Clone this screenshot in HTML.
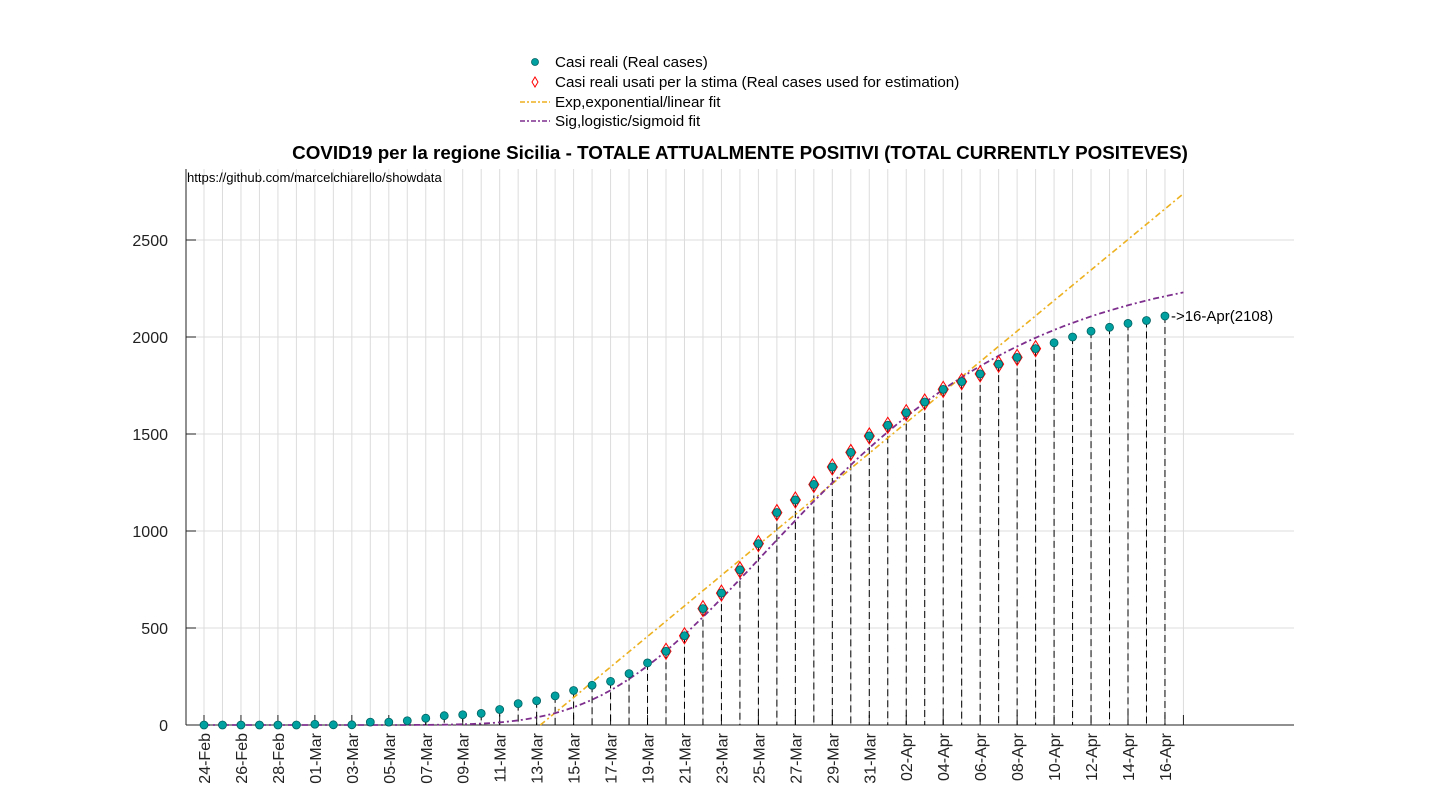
<!DOCTYPE html>
<html><head><meta charset="utf-8"><style>
body{margin:0;background:#fff;}
svg{display:block;font-family:"Liberation Sans",sans-serif;}
</style></head><body>
<svg id="chart" width="1430" height="800"></svg>
<script>
const dateLabels=["24-Feb","25-Feb","26-Feb","27-Feb","28-Feb","29-Feb","01-Mar","02-Mar","03-Mar","04-Mar","05-Mar","06-Mar","07-Mar","08-Mar","09-Mar","10-Mar","11-Mar","12-Mar","13-Mar","14-Mar","15-Mar","16-Mar","17-Mar","18-Mar","19-Mar","20-Mar","21-Mar","22-Mar","23-Mar","24-Mar","25-Mar","26-Mar","27-Mar","28-Mar","29-Mar","30-Mar","31-Mar","01-Apr","02-Apr","03-Apr","04-Apr","05-Apr","06-Apr","07-Apr","08-Apr","09-Apr","10-Apr","11-Apr","12-Apr","13-Apr","14-Apr","15-Apr","16-Apr"];
const realCases=[0,0,0,0,0,0,4,1,1,15,15,22,35,48,53,60,80,110,125,150,178,205,225,265,320,380,460,600,680,800,935,1095,1160,1240,1330,1405,1490,1545,1610,1665,1730,1770,1810,1860,1895,1940,1970,2000,2030,2050,2070,2085,2108];
const estStart=25, estEnd=45;
const yTicks=[0,500,1000,1500,2000,2500];
const linFit={slope:78.7,zeroDay:18.2};
const sigFit={K:2400,c:0.115,t0:30.3};
const fitEndDay=53;

const svg=document.getElementById('chart');
const NS='http://www.w3.org/2000/svg';
function mk(tag,attrs,parent){const e=document.createElementNS(NS,tag);for(const k in attrs)e.setAttribute(k,attrs[k]);(parent||svg).appendChild(e);return e;}
const X0=204,DX=18.48,Y0=725,YS=97/500;
const xs=d=>X0+d*DX, ys=v=>Y0-v*YS;
const L=186,R=1294,T=169;

// grid
const grid=mk('g',{});


for(let d=0;d<=fitEndDay;d++){mk('line',{x1:xs(d),x2:xs(d),y1:T,y2:Y0,stroke:'#dcdcdc','stroke-width':1},grid);}
yTicks.forEach(v=>{mk('line',{x1:L,x2:R,y1:ys(v),y2:ys(v),stroke:'#dcdcdc','stroke-width':1},grid);});

// axes
const ax=mk('g',{});


mk('line',{x1:L,x2:L,y1:T,y2:Y0,stroke:'#222','stroke-width':1},ax);
mk('line',{x1:L,x2:R,y1:Y0,y2:Y0,stroke:'#222','stroke-width':1},ax);
yTicks.forEach(v=>{
  mk('line',{x1:L,x2:L+10,y1:ys(v),y2:ys(v),stroke:'#222'},ax);
  const t=mk('text',{x:168,y:ys(v)+6,'text-anchor':'end','font-size':16,fill:'#222'},ax);t.textContent=v;
  
  
});
mk('line',{x1:xs(fitEndDay),x2:xs(fitEndDay),y1:Y0,y2:Y0-10,stroke:'#222'},ax);
for(let d=0;d<dateLabels.length;d+=2){
  mk('line',{x1:xs(d),x2:xs(d),y1:Y0,y2:Y0-10,stroke:'#222'},ax);
  const t=mk('text',{transform:`translate(${xs(d)+6},${Y0+8}) rotate(-90)`,'text-anchor':'end','font-size':16,fill:'#222'},ax);
  t.textContent=dateLabels[d];
  
  
}

// stems
const stems=mk('g',{});


realCases.forEach((v,i)=>{mk('line',{x1:xs(i),x2:xs(i),y1:ys(v),y2:Y0,stroke:'#000','stroke-width':1,'stroke-dasharray':'7,4'},stems);});

// fits
let p='';
for(let d=linFit.zeroDay;;d+=0.5){if(d>fitEndDay)d=fitEndDay;p+=(p?'L':'M')+xs(d).toFixed(1)+','+ys(linFit.slope*(d-linFit.zeroDay)).toFixed(1);if(d>=fitEndDay)break;}
const lin=mk('path',{d:p,fill:'none',stroke:'#EDB120','stroke-width':1.6,'stroke-dasharray':'6,3,2,3'});


p='';
for(let d=0;d<=fitEndDay+0.001;d+=0.5){const v=sigFit.K*Math.exp(-Math.exp(-sigFit.c*(d-sigFit.t0)));p+=(p?'L':'M')+xs(d).toFixed(1)+','+ys(v).toFixed(1);}
const sig=mk('path',{d:p,fill:'none',stroke:'#7E2F8E','stroke-width':1.8,'stroke-dasharray':'6,3,2,3'});



// points
realCases.forEach((v,i)=>{
  if(i>=estStart&&i<=estEnd){
    const dm=mk('polygon',{points:`${xs(i)},${ys(v)-8} ${xs(i)+5},${ys(v)} ${xs(i)},${ys(v)+8} ${xs(i)-5},${ys(v)}`,fill:'none',stroke:'#ff0000','stroke-width':1});
    
    
  }
  const c=mk('circle',{cx:xs(i),cy:ys(v),r:4,fill:'#00A0A0',stroke:'#006060','stroke-width':0.8});
  
  
});
const last=realCases.length-1;
const lab=mk('text',{x:xs(last)+6,y:ys(realCases[last])+5,'font-size':15,fill:'#000'});
lab.textContent='->16-Apr('+realCases[last]+')';



// title & source
const ti=mk('text',{x:740,y:159,'text-anchor':'middle','font-size':18.8,'font-weight':'bold',fill:'#000'});
ti.textContent='COVID19 per la regione Sicilia - TOTALE ATTUALMENTE POSITIVI (TOTAL CURRENTLY POSITEVES)';


const src=mk('text',{x:187,y:182,'font-size':13.1,fill:'#000'});
src.textContent='https://github.com/marcelchiarello/showdata';



// legend
const lg=mk('g',{});


const rows=[62,82,102,121];
mk('circle',{cx:535,cy:rows[0],r:3.5,fill:'#00A0A0',stroke:'#006060','stroke-width':0.8},lg);
mk('polygon',{points:`535,${rows[1]-5} 538,${rows[1]} 535,${rows[1]+5} 532,${rows[1]}`,fill:'none',stroke:'#ff0000'},lg);
mk('line',{x1:520,x2:550,y1:rows[2],y2:rows[2],stroke:'#EDB120','stroke-width':1.6,'stroke-dasharray':'5,2,2,2'},lg);
mk('line',{x1:520,x2:550,y1:rows[3],y2:rows[3],stroke:'#7E2F8E','stroke-width':1.6,'stroke-dasharray':'5,2,2,2'},lg);
['Casi reali (Real cases)','Casi reali usati per la stima (Real cases used for estimation)','Exp,exponential/linear fit','Sig,logistic/sigmoid fit'].forEach((s,i)=>{
  const t=mk('text',{x:555,y:rows[i]+5,'font-size':15.2,fill:'#000'},lg);t.textContent=s;
  
  
});
</script>
</body></html>
